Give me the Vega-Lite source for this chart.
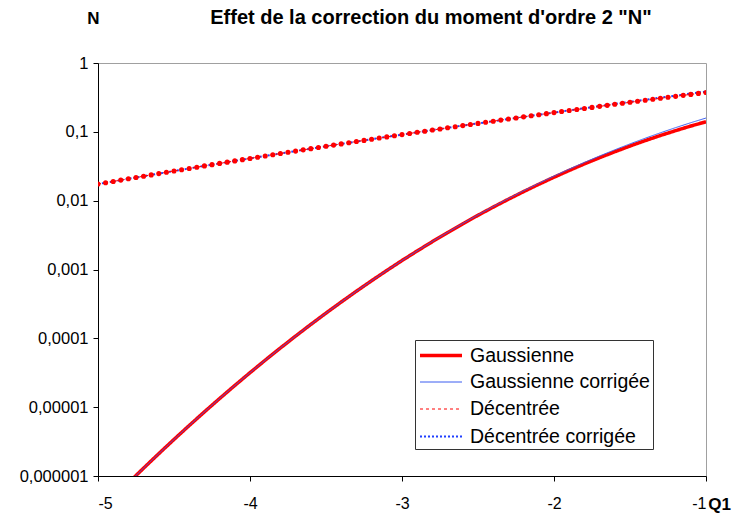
{
  "$schema": "https://vega.github.io/schema/vega-lite/v6.json",
  "width": 608,
  "height": 413,
  "autosize": {"type": "none"},
  "padding": {"left": 98, "top": 63, "right": 27, "bottom": 39},
  "background": "white",
  "title": {
    "text": "Effet de la correction du moment d'ordre 2 \"N\"",
    "font": "Liberation Sans",
    "fontSize": 20,
    "fontWeight": "bold",
    "color": "black",
    "anchor": "middle",
    "dx": 29,
    "offset": 0,
    "dy": 19
  },
  "datasets": {
    "g": [
      {"x": -5.0, "Gaussienne": 2.867e-7, "Gaussienne corrigée": 2.867e-7},
      {"x": -4.9, "Gaussienne": 4.792e-7, "Gaussienne corrigée": 4.792e-7},
      {"x": -4.8, "Gaussienne": 7.933e-7, "Gaussienne corrigée": 7.933e-7},
      {"x": -4.7, "Gaussienne": 1.301e-6, "Gaussienne corrigée": 1.301e-6},
      {"x": -4.6, "Gaussienne": 2.112e-6, "Gaussienne corrigée": 2.112e-6},
      {"x": -4.5, "Gaussienne": 3.398e-6, "Gaussienne corrigée": 3.398e-6},
      {"x": -4.4, "Gaussienne": 5.413e-6, "Gaussienne corrigée": 5.413e-6},
      {"x": -4.3, "Gaussienne": 8.540e-6, "Gaussienne corrigée": 8.540e-6},
      {"x": -4.2, "Gaussienne": 1.335e-5, "Gaussienne corrigée": 1.335e-5},
      {"x": -4.1, "Gaussienne": 2.066e-5, "Gaussienne corrigée": 2.066e-5},
      {"x": -4.0, "Gaussienne": 3.167e-5, "Gaussienne corrigée": 3.167e-5},
      {"x": -3.9, "Gaussienne": 4.810e-5, "Gaussienne corrigée": 4.810e-5},
      {"x": -3.8, "Gaussienne": 7.235e-5, "Gaussienne corrigée": 7.235e-5},
      {"x": -3.7, "Gaussienne": 1.078e-4, "Gaussienne corrigée": 1.078e-4},
      {"x": -3.6, "Gaussienne": 1.591e-4, "Gaussienne corrigée": 1.591e-4},
      {"x": -3.5, "Gaussienne": 2.326e-4, "Gaussienne corrigée": 2.326e-4},
      {"x": -3.4, "Gaussienne": 3.369e-4, "Gaussienne corrigée": 3.369e-4},
      {"x": -3.3, "Gaussienne": 4.834e-4, "Gaussienne corrigée": 4.834e-4},
      {"x": -3.2, "Gaussienne": 6.871e-4, "Gaussienne corrigée": 6.871e-4},
      {"x": -3.1, "Gaussienne": 9.676e-4, "Gaussienne corrigée": 9.676e-4},
      {"x": -3.0, "Gaussienne": 1.350e-3, "Gaussienne corrigée": 1.350e-3},
      {"x": -2.9, "Gaussienne": 1.860e-3, "Gaussienne corrigée": 1.866e-3},
      {"x": -2.8, "Gaussienne": 2.542e-3, "Gaussienne corrigée": 2.555e-3},
      {"x": -2.7, "Gaussienne": 3.443e-3, "Gaussienne corrigée": 3.467e-3},
      {"x": -2.6, "Gaussienne": 4.614e-3, "Gaussienne corrigée": 4.661e-3},
      {"x": -2.5, "Gaussienne": 6.130e-3, "Gaussienne corrigée": 6.210e-3},
      {"x": -2.4, "Gaussienne": 8.060e-3, "Gaussienne corrigée": 8.198e-3},
      {"x": -2.3, "Gaussienne": 1.049e-2, "Gaussienne corrigée": 1.072e-2},
      {"x": -2.2, "Gaussienne": 1.354e-2, "Gaussienne corrigée": 1.390e-2},
      {"x": -2.1, "Gaussienne": 1.731e-2, "Gaussienne corrigée": 1.786e-2},
      {"x": -2.0, "Gaussienne": 2.190e-2, "Gaussienne corrigée": 2.275e-2},
      {"x": -1.9, "Gaussienne": 2.750e-2, "Gaussienne corrigée": 2.872e-2},
      {"x": -1.8, "Gaussienne": 3.420e-2, "Gaussienne corrigée": 3.593e-2},
      {"x": -1.7, "Gaussienne": 4.210e-2, "Gaussienne corrigée": 4.457e-2},
      {"x": -1.6, "Gaussienne": 5.140e-2, "Gaussienne corrigée": 5.480e-2},
      {"x": -1.5, "Gaussienne": 6.220e-2, "Gaussienne corrigée": 6.681e-2},
      {"x": -1.4, "Gaussienne": 7.450e-2, "Gaussienne corrigée": 8.076e-2},
      {"x": -1.3, "Gaussienne": 8.850e-2, "Gaussienne corrigée": 9.680e-2},
      {"x": -1.2, "Gaussienne": 1.040e-1, "Gaussienne corrigée": 1.151e-1},
      {"x": -1.1, "Gaussienne": 1.215e-1, "Gaussienne corrigée": 1.357e-1},
      {"x": -1.0, "Gaussienne": 1.400e-1, "Gaussienne corrigée": 1.587e-1}
    ],
    "dc": [
      {"x": -5.0, "Décentrée corrigée": 0.01742},
      {"x": -4.9, "Décentrée corrigée": 0.01903},
      {"x": -4.8, "Décentrée corrigée": 0.02078},
      {"x": -4.7, "Décentrée corrigée": 0.02268},
      {"x": -4.6, "Décentrée corrigée": 0.02474},
      {"x": -4.5, "Décentrée corrigée": 0.02696},
      {"x": -4.4, "Décentrée corrigée": 0.02937},
      {"x": -4.3, "Décentrée corrigée": 0.03197},
      {"x": -4.2, "Décentrée corrigée": 0.03478},
      {"x": -4.1, "Décentrée corrigée": 0.03781},
      {"x": -4.0, "Décentrée corrigée": 0.04108},
      {"x": -3.9, "Décentrée corrigée": 0.04461},
      {"x": -3.8, "Décentrée corrigée": 0.04842},
      {"x": -3.7, "Décentrée corrigée": 0.05252},
      {"x": -3.6, "Décentrée corrigée": 0.05693},
      {"x": -3.5, "Décentrée corrigée": 0.06168},
      {"x": -3.4, "Décentrée corrigée": 0.06678},
      {"x": -3.3, "Décentrée corrigée": 0.07225},
      {"x": -3.2, "Décentrée corrigée": 0.07811},
      {"x": -3.1, "Décentrée corrigée": 0.08442},
      {"x": -3.0, "Décentrée corrigée": 0.09116},
      {"x": -2.9, "Décentrée corrigée": 0.09838},
      {"x": -2.8, "Décentrée corrigée": 0.1061},
      {"x": -2.7, "Décentrée corrigée": 0.1144},
      {"x": -2.6, "Décentrée corrigée": 0.1232},
      {"x": -2.5, "Décentrée corrigée": 0.1327},
      {"x": -2.4, "Décentrée corrigée": 0.1428},
      {"x": -2.3, "Décentrée corrigée": 0.1535},
      {"x": -2.2, "Décentrée corrigée": 0.1650},
      {"x": -2.1, "Décentrée corrigée": 0.1772},
      {"x": -2.0, "Décentrée corrigée": 0.1902},
      {"x": -1.9, "Décentrée corrigée": 0.2047},
      {"x": -1.8, "Décentrée corrigée": 0.2201},
      {"x": -1.7, "Décentrée corrigée": 0.2365},
      {"x": -1.6, "Décentrée corrigée": 0.2540},
      {"x": -1.5, "Décentrée corrigée": 0.2726},
      {"x": -1.4, "Décentrée corrigée": 0.2924},
      {"x": -1.3, "Décentrée corrigée": 0.3134},
      {"x": -1.2, "Décentrée corrigée": 0.3358},
      {"x": -1.1, "Décentrée corrigée": 0.3595},
      {"x": -1.0, "Décentrée corrigée": 0.3846}
    ],
    "d": [
      {"x": -5.00, "Décentrée": 0.01742},
      {"x": -4.95, "Décentrée": 0.01821},
      {"x": -4.90, "Décentrée": 0.01903},
      {"x": -4.85, "Décentrée": 0.01989},
      {"x": -4.80, "Décentrée": 0.02078},
      {"x": -4.75, "Décentrée": 0.02171},
      {"x": -4.70, "Décentrée": 0.02268},
      {"x": -4.65, "Décentrée": 0.02369},
      {"x": -4.60, "Décentrée": 0.02474},
      {"x": -4.55, "Décentrée": 0.02582},
      {"x": -4.50, "Décentrée": 0.02696},
      {"x": -4.45, "Décentrée": 0.02814},
      {"x": -4.40, "Décentrée": 0.02937},
      {"x": -4.35, "Décentrée": 0.03064},
      {"x": -4.30, "Décentrée": 0.03197},
      {"x": -4.25, "Décentrée": 0.03334},
      {"x": -4.20, "Décentrée": 0.03478},
      {"x": -4.15, "Décentrée": 0.03626},
      {"x": -4.10, "Décentrée": 0.03781},
      {"x": -4.05, "Décentrée": 0.03941},
      {"x": -4.00, "Décentrée": 0.04108},
      {"x": -3.95, "Décentrée": 0.04281},
      {"x": -3.90, "Décentrée": 0.04461},
      {"x": -3.85, "Décentrée": 0.04648},
      {"x": -3.80, "Décentrée": 0.04842},
      {"x": -3.75, "Décentrée": 0.05043},
      {"x": -3.70, "Décentrée": 0.05252},
      {"x": -3.65, "Décentrée": 0.05469},
      {"x": -3.60, "Décentrée": 0.05693},
      {"x": -3.55, "Décentrée": 0.05926},
      {"x": -3.50, "Décentrée": 0.06168},
      {"x": -3.45, "Décentrée": 0.06417},
      {"x": -3.40, "Décentrée": 0.06678},
      {"x": -3.35, "Décentrée": 0.06946},
      {"x": -3.30, "Décentrée": 0.07225},
      {"x": -3.25, "Décentrée": 0.07514},
      {"x": -3.20, "Décentrée": 0.07811},
      {"x": -3.15, "Décentrée": 0.08121},
      {"x": -3.10, "Décentrée": 0.08442},
      {"x": -3.05, "Décentrée": 0.08773},
      {"x": -3.00, "Décentrée": 0.09116},
      {"x": -2.95, "Décentrée": 0.09472},
      {"x": -2.90, "Décentrée": 0.09838},
      {"x": -2.85, "Décentrée": 0.1022},
      {"x": -2.80, "Décentrée": 0.1061},
      {"x": -2.75, "Décentrée": 0.1102},
      {"x": -2.70, "Décentrée": 0.1144},
      {"x": -2.65, "Décentrée": 0.1188},
      {"x": -2.60, "Décentrée": 0.1232},
      {"x": -2.55, "Décentrée": 0.1279},
      {"x": -2.50, "Décentrée": 0.1327},
      {"x": -2.45, "Décentrée": 0.1376},
      {"x": -2.40, "Décentrée": 0.1428},
      {"x": -2.35, "Décentrée": 0.1481},
      {"x": -2.30, "Décentrée": 0.1535},
      {"x": -2.25, "Décentrée": 0.1592},
      {"x": -2.20, "Décentrée": 0.1650},
      {"x": -2.15, "Décentrée": 0.1710},
      {"x": -2.10, "Décentrée": 0.1772},
      {"x": -2.05, "Décentrée": 0.1837},
      {"x": -2.00, "Décentrée": 0.1902},
      {"x": -1.95, "Décentrée": 0.1971},
      {"x": -1.90, "Décentrée": 0.2041},
      {"x": -1.85, "Décentrée": 0.2113},
      {"x": -1.80, "Décentrée": 0.2188},
      {"x": -1.75, "Décentrée": 0.2265},
      {"x": -1.70, "Décentrée": 0.2344},
      {"x": -1.65, "Décentrée": 0.2425},
      {"x": -1.60, "Décentrée": 0.2510},
      {"x": -1.55, "Décentrée": 0.2597},
      {"x": -1.50, "Décentrée": 0.2686},
      {"x": -1.45, "Décentrée": 0.2778},
      {"x": -1.40, "Décentrée": 0.2872},
      {"x": -1.35, "Décentrée": 0.2969},
      {"x": -1.30, "Décentrée": 0.3070},
      {"x": -1.25, "Décentrée": 0.3173},
      {"x": -1.20, "Décentrée": 0.3279},
      {"x": -1.15, "Décentrée": 0.3388},
      {"x": -1.10, "Décentrée": 0.3500},
      {"x": -1.05, "Décentrée": 0.3616},
      {"x": -1.00, "Décentrée": 0.3734}
    ]
  },
  "encoding": {
    "x": {
      "field": "x",
      "type": "quantitative",
      "scale": {"domain": [-5, -1], "nice": false, "zero": false},
      "axis": {
        "values": [-5, -4, -3, -2, -1],
        "labelExpr": "datum.value + ''",
        "labelPadding": 14,
        "labelFontSize": 16,
        "title": "Q1",
        "titleAngle": 0,
        "titleX": 621,
        "titleY": 28,
        "titleAlign": "center",
        "titleBaseline": "middle",
        "grid": false
      }
    },
    "y": {
      "field": "y",
      "type": "quantitative",
      "scale": {"type": "log", "domain": [0.000001, 1], "nice": false},
      "axis": {
        "values": [0.000001, 0.00001, 0.0001, 0.001, 0.01, 0.1, 1],
        "labelExpr": "replace(format(datum.value, '.6~f'), '.', ',')",
        "labelPadding": 5,
        "title": "N",
        "titleAngle": 0,
        "titleX": -5,
        "titleY": -45,
        "titleAlign": "center",
        "titleBaseline": "middle",
        "grid": false
      }
    },
    "color": {
      "field": "serie",
      "type": "nominal",
      "scale": {
        "domain": ["Gaussienne", "Gaussienne corrigée", "Décentrée", "Décentrée corrigée"],
        "range": ["#ff0000", "#3a5cf0", "#ff0000", "#1f3fff"]
      },
      "legend": {"title": null}
    },
    "strokeDash": {
      "field": "serie",
      "type": "nominal",
      "scale": {
        "domain": ["Gaussienne", "Gaussienne corrigée", "Décentrée", "Décentrée corrigée"],
        "range": [[1, 0], [1, 0], [3, 3], [2, 2]]
      },
      "legend": {"title": null}
    },
    "strokeWidth": {
      "field": "serie",
      "type": "nominal",
      "scale": {
        "type": "ordinal",
        "domain": ["Gaussienne", "Gaussienne corrigée", "Décentrée", "Décentrée corrigée"],
        "range": [3.5, 1, 1, 2]
      },
      "legend": {"title": null}
    }
  },
  "layer": [
    {
      "data": {"name": "g"},
      "transform": [{"fold": ["Gaussienne"], "as": ["serie", "y"]}],
      "mark": {"type": "line", "clip": true}
    },
    {
      "data": {"name": "g"},
      "transform": [{"fold": ["Gaussienne corrigée"], "as": ["serie", "y"]}],
      "mark": {"type": "line", "clip": true}
    },
    {
      "data": {"name": "dc"},
      "transform": [{"fold": ["Décentrée corrigée"], "as": ["serie", "y"]}],
      "mark": {"type": "line", "clip": true}
    },
    {
      "data": {"name": "d"},
      "transform": [{"fold": ["Décentrée"], "as": ["serie", "y"]}],
      "mark": {"type": "line", "clip": true, "point": {"filled": true, "size": 26, "color": "#ff0000", "opacity": 1}}
    }
  ],
  "config": {
    "view": {"stroke": "#a0a0a0", "strokeWidth": 1},
    "font": "Liberation Sans",
    "axis": {
      "domainColor": "black",
      "domainWidth": 1,
      "tickColor": "black",
      "tickSize": 5,
      "labelFont": "Liberation Sans",
      "labelFontSize": 16.5,
      "labelColor": "black",
      "titleFont": "Liberation Sans",
      "titleFontSize": 17,
      "titleFontWeight": "bold",
      "titleColor": "black"
    },
    "legend": {
      "orient": "none",
      "legendX": 317,
      "legendY": 277,
      "direction": "vertical",
      "padding": 3,
      "strokeColor": "#333333",
      "fillColor": "white",
      "cornerRadius": 0,
      "labelFont": "Liberation Sans",
      "labelFontSize": 19.5,
      "labelLimit": 400,
      "labelColor": "black",
      "labelOffset": 27,
      "symbolType": "M-1,0H3",
      "symbolSize": 441,
      "symbolOpacity": 1,
      "rowPadding": 6
    }
  }
}
